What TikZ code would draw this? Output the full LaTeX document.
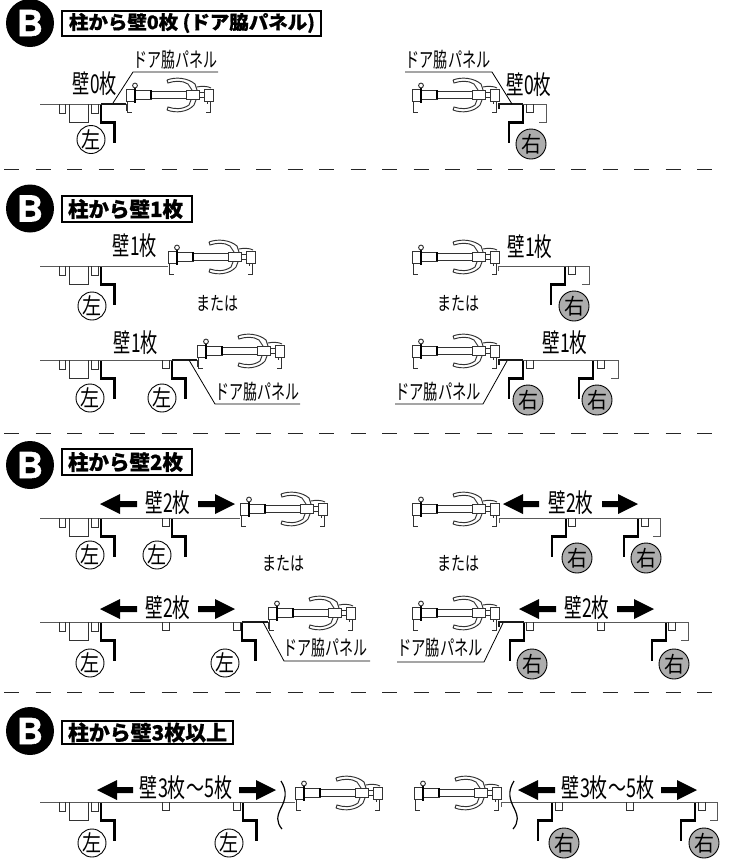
\documentclass[tikz,border=0pt]{standalone}
\usepackage{fontspec}
\usepackage{graphicx}
\newfontfamily\jp[BoldFeatures={FakeBold=0.7}]{Noto Sans CJK JP}
\newfontfamily\hv[BoldFeatures={FakeBold=1.5}]{TeX Gyre Heros}
\newcounter{nn}
\tikzset{
  wall/.style={line width=1pt,draw=black!65},
  fine/.style={line width=0.95pt,draw=black!80},
  heavy/.style={line width=2.4pt,draw=black,line cap=butt,line join=miter},
  panel/.style={line width=1.8pt,draw=black!90},
  lead/.style={line width=0.8pt,draw=black},
  txt/.style={inner sep=0pt,outer sep=0pt},
  lcirc/.style={circle,draw=black,line width=0.9pt,fill=white,minimum size=28pt,inner sep=0pt},
  rcirc/.style={circle,draw=black,line width=0.9pt,fill=black!32,minimum size=30pt,inner sep=0pt},
  titlebox/.style={draw=black,line width=2pt,fill=white},
  sep/.style={line width=1pt,draw=black!85,dash pattern=on 15pt off 16.5pt}
}
% text fitted to a width and height
\newcommand\lab[5]{\stepcounter{nn}\node[txt] (lab\arabic{nn}) at (#1,#2) {\resizebox*{#3pt}{#4pt}{\jp #5}};}
\newcommand\ttl[5]{\stepcounter{nn}\node[txt,anchor=west] (ttl\arabic{nn}) at (#1,#2) {\resizebox*{#3pt}{#4pt}{\jp\bfseries #5}};}
\newcommand\badge[2]{\stepcounter{nn}\node[circle,fill=black,minimum size=48pt,inner sep=0pt] (bd\arabic{nn}) at (#1,#2) {\resizebox*{26pt}{26pt}{\hv\bfseries\color{white}B}};}
\newcommand\lc[2]{\stepcounter{nn}\node[lcirc] (lc\arabic{nn}) at (#1,#2) {\resizebox*{19pt}{20pt}{\jp 左}};}
\newcommand\rc[2]{\stepcounter{nn}\node[rcirc] (rc\arabic{nn}) at (#1,#2) {\resizebox*{20pt}{20pt}{\jp 右}};}
\newcommand\door[2]{\begin{scope}[shift={(#1,#2)}]
  \draw[fine,fill=white] (0,-15) rectangle (9,-3);
  \draw[fine,fill=white] (9,-14) rectangle (25,-5);
  \draw[fine] (25,-13)--(60,-13) (25,-6)--(60,-6);
  \draw[line width=1.2pt] (25,-14)--(25,-5);
  \draw[fine,fill=white] (60,-14) rectangle (73,-5);
  \draw[fine,fill=white] (78,-15) rectangle (87,-3);
  \draw[fine] (73,-12)--(78,-12) (73,-7)--(78,-7);
  \draw[line width=1.4pt] (9,-16)--(9,-1);
  \draw[fine,fill=white] (9,-18.5) circle (2.4);
  \draw[fine] (41,-24) .. controls (50,-27.5) and (62,-26) .. (69,-20) -- (71,-14)
     (66,-14) -- (62,-20) .. controls (56,-24) and (48,-23) .. (42,-21) -- (41,-24);
  \draw[fine] (41,6) .. controls (50,9.5) and (62,8) .. (68,1) -- (70,-4)
     (65,-4) -- (63,1) .. controls (56,6) and (48,5) .. (42,3) -- (41,6);
  \draw[fine] (71,-17) .. controls (75,-18) and (82,-18) .. (85,-16);
  \draw[fine] (1.5,-2)--(1.5,8.5)--(5.5,8.5);
  \draw[fine] (84,-2)--(84,8.5)--(80,8.5);
  \draw[fine] (81,-3)--(81,0);
\end{scope}}
\newcommand\lpost[1]{\begin{scope}[shift={(0,#1)}]
  \draw[fine] (59,0)--(59,9)--(65,9)--(65,0);
  \draw[fine] (69,0)--(69,18)--(88,18)--(88,0);
  \draw[fine] (91,0)--(91,9)--(98,9)--(98,0);
\end{scope}}
\newcommand\notch[2]{\draw[fine] (#1,#2)--(#1,#2+8.5)--(#1+7,#2+8.5)--(#1+7,#2);}
\newcommand\lstair[2]{\draw[heavy] (#1,#2+1)--(#1,#2+18.5)--(#1+13.5,#2+18.5)--(#1+13.5,#2+38.5);}
\newcommand\rstair[2]{\draw[heavy] (#1,#2+1)--(#1,#2+18.5)--(#1-14,#2+18.5)--(#1-14,#2+38.5);}
\newcommand\rend[2]{\draw[wall] (#1,#2)--(#1,#2+18.5)--(#1-7,#2+18.5);}
\newcommand\arrL[4]{\fill[black] (#1,#2)--(#3,#2-10)--(#3,#2-3)--(#4,#2-3)--(#4,#2+3)--(#3,#2+3)--(#3,#2+10)--cycle;}
\newcommand\arrR[4]{\fill[black] (#1,#2)--(#3,#2-10)--(#3,#2-3)--(#4,#2-3)--(#4,#2+3)--(#3,#2+3)--(#3,#2+10)--cycle;}
\newcommand\panelL[3]{\draw[panel] (#1,#3)--(#2,#3); \draw[fine] (#2,#3)--(#2,#3+7);}
\newcommand\panelR[3]{\draw[panel] (#1,#3+5)--(#1,#3)--(#2,#3);}
\begin{document}
\begin{tikzpicture}[x=1pt,y=-1pt]
\useasboundingbox (0,0) rectangle (730,863);
% separators
\draw[sep] (4,169.5)--(714,169.5);
\draw[sep] (4,433.5)--(714,433.5);
\draw[sep] (4,692.5)--(714,692.5);
% ---------------- section 1
\badge{30}{23}
\draw[titlebox] (62,10.5) rectangle (321,35.5);
\ttl{69}{23}{246}{20}{柱から壁0枚 (ドア脇パネル)}
\draw[wall] (40,104)--(126,104);
\lpost{104}
\lstair{101}{104}
\panelL{101}{126}{104}
\door{126}{104}
\lc{91}{139.5}
\lab{95}{84}{44}{24}{壁0枚}
\lab{175}{60}{84}{19}{ドア脇パネル}
\draw[lead] (218,72)--(133,72)--(113,103);
\draw[wall] (499,104)--(546,104);
\door{412}{104}
\panelR{499}{523}{104}
\rstair{523}{104}
\notch{526}{104}
\rend{546}{104}
\rc{531}{144}
\lab{529}{85}{45}{24}{壁0枚}
\lab{448}{60}{85}{19}{ドア脇パネル}
\draw[lead] (405,72)--(492,72)--(512,104);
% ---------------- section 2
\badge{30}{208.5}
\draw[titlebox] (62,195.5) rectangle (192,221.5);
\ttl{68}{209}{115}{20}{柱から壁1枚}
\draw[wall] (40,266)--(168,266);
\lpost{266}
\lstair{101}{266}
\door{168}{266}
\lc{92}{306}
\lab{135}{246}{44}{24}{壁1枚}
\lab{217}{303}{42}{16}{または}
\draw[wall] (498,271)--(498,266)--(589,266);
\door{412}{266}
\rstair{565}{266}
\notch{568}{266}
\rend{589}{266}
\rc{574}{306}
\lab{530}{247}{45}{24}{壁1枚}
\lab{458}{303}{42}{16}{または}
% lower row
\draw[wall] (40,360)--(197,360);
\lpost{360}
\lstair{101}{360}
\notch{162}{360}
\lstair{172}{360}
\panelL{172}{197}{360}
\door{197}{360}
\lc{90}{398}
\lc{162}{398}
\lab{136}{343}{44}{24}{壁1枚}
\lab{257}{392}{84}{19}{ドア脇パネル}
\draw[lead] (300,404)--(215,404)--(189,360);
\draw[wall] (499,360)--(618,360);
\door{412}{360}
\panelR{499}{523}{360}
\rstair{523}{360}
\notch{526}{360}
\rstair{593}{360}
\notch{597}{360}
\rend{618}{360}
\rc{528}{400}
\rc{597}{400}
\lab{565}{343}{45}{24}{壁1枚}
\lab{438}{392}{86}{19}{ドア脇パネル}
\draw[lead] (395,404)--(483,404)--(507,361);
% ---------------- section 3
\badge{30}{465}
\draw[titlebox] (62,448.5) rectangle (192,474.5);
\ttl{68}{462}{115}{20}{柱から壁2枚}
\draw[wall] (40,518)--(240,518);
\lpost{518}
\lstair{101}{518}
\notch{162}{518}
\lstair{172}{518}
\door{240}{518}
\lc{90}{555}
\lc{157}{555}
\arrL{100}{504}{120}{137}
\arrR{235}{504}{215}{198}
\lab{168}{503}{45}{24}{壁2枚}
\lab{283}{563}{42}{16}{または}
\draw[wall] (499,523)--(499,518)--(660,518);
\door{412}{518}
\rstair{566}{518}
\notch{568}{518}
\rstair{638}{518}
\notch{641}{518}
\rend{660}{518}
\rc{577}{558}
\rc{646}{558}
\arrL{503}{504}{523}{539}
\arrR{638}{504}{618}{602}
\lab{571}{503}{45}{24}{壁2枚}
\lab{458}{563}{42}{16}{または}
% lower row
\draw[wall] (40,622)--(268,622);
\lpost{622}
\lstair{101}{622}
\notch{162}{622}
\notch{233}{622}
\lstair{242}{622}
\panelL{242}{268}{622}
\door{268}{622}
\lc{90}{663}
\lc{225}{663}
\arrL{100}{609}{120}{137}
\arrR{235}{609}{215}{198}
\lab{168}{608}{45}{24}{壁2枚}
\lab{325}{648}{84}{19}{ドア脇パネル}
\draw[lead] (370,661)--(284,661)--(263,622);
\draw[wall] (499,622)--(688,622);
\door{412}{622}
\panelR{499}{524}{622}
\rstair{524}{622}
\notch{526}{622}
\notch{597}{622}
\rstair{666}{622}
\notch{668}{622}
\rend{688}{622}
\rc{532}{664}
\rc{674}{664}
\arrL{519}{609}{539}{556}
\arrR{654}{609}{634}{617}
\lab{587}{608}{45}{24}{壁2枚}
\lab{440}{648}{86}{19}{ドア脇パネル}
\draw[lead] (397,662)--(484,662)--(503,623);
% ---------------- section 4
\badge{30}{731}
\draw[titlebox] (62,720.5) rectangle (233,744);
\ttl{68}{732.5}{159}{20}{柱から壁3枚以上}
\draw[wall] (40,802)--(295,802);
\lpost{802}
\lstair{101}{802}
\notch{162}{802}
\notch{233}{802}
\lstair{243}{802}
\door{295}{802}
\lc{92}{843}
\lc{229}{843}
\arrL{97}{790}{117}{133}
\arrR{276}{790}{256}{239}
\lab{186}{788}{92}{24}{壁3枚～5枚}
\draw[line width=1.2pt] (281,781) .. controls (288,792) and (285,800) .. (281,808) .. controls (277,816) and (276,822) .. (282,829);
\draw[wall] (501,807)--(501,802)--(717,802);
\door{414}{802}
\rstair{552}{802}
\notch{555}{802}
\notch{626}{802}
\rstair{695}{802}
\notch{698}{802}
\rend{717}{802}
\rc{564}{843}
\rc{704}{843}
\arrL{518}{790}{538}{555}
\arrR{697}{790}{677}{661}
\lab{608}{788}{92}{24}{壁3枚～5枚}
\draw[line width=1.2pt] (514,781) .. controls (507,792) and (510,800) .. (514,808) .. controls (518,816) and (519,822) .. (513,829);
\end{tikzpicture}
\end{document}
